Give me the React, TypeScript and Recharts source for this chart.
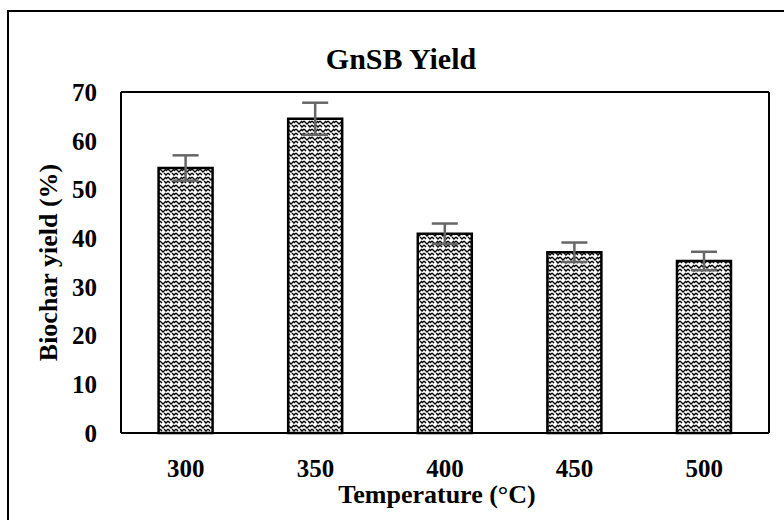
import React from "react";
import {
  BarChart,
  Bar,
  XAxis,
  YAxis,
  CartesianGrid,
  ErrorBar,
} from "recharts";

const temperatures = ["300", "350", "400", "450", "500"];
const yieldValues = [54.4, 64.5, 40.9, 37.1, 35.3];
const yieldErrors = [2.6, 3.3, 2.1, 2.0, 1.9];
const yTicks = [0, 10, 20, 30, 40, 50, 60, 70];

const data = temperatures.map((t, i) => ({
  temp: t,
  value: yieldValues[i],
  err: yieldErrors[i],
}));

const font = "'Liberation Serif', 'Times New Roman', serif";

export default function App() {
  return (
    <div
      style={{
        position: "absolute",
        left: 0,
        top: 0,
        width: 784,
        height: 520,
        overflow: "hidden",
        background: "#fff",
        fontFamily: font,
      }}
    >
      {/* outer frame, only top/left edges fall inside the picture */}
      <div
        style={{
          position: "absolute",
          left: 7,
          top: 10,
          width: 800,
          height: 540,
          border: "2px solid #000",
        }}
      />
      <div
        style={{
          position: "absolute",
          left: 0,
          top: 42,
          width: 802,
          textAlign: "center",
          fontSize: 30,
          fontWeight: "bold",
          color: "#000",
        }}
      >
        GnSB Yield
      </div>
      <div style={{ position: "absolute", left: 0, top: 0 }}>
        <BarChart
          width={784}
          height={520}
          data={data}
          margin={{ top: 92, right: 15, left: 0, bottom: 0 }}
          barCategoryGap="29%"
        >
          <defs>
            <pattern
              id="weave"
              width="8"
              height="8"
              patternUnits="userSpaceOnUse"
            >
              <rect width="8" height="8" fill="#fff" />
              <path
                d="M0 1 L3 4 L6 1 M4 5 L6 7 L8 5 M0 5 L2 7 M6 3 L8 1"
                stroke="#000"
                strokeWidth="1.4"
                fill="none"
              />
            </pattern>
          </defs>
          <CartesianGrid
            stroke="#000"
            strokeWidth={2}
            horizontalCoordinatesGenerator={({ offset }: any) => [
              offset.top,
              offset.top + offset.height,
            ]}
            verticalCoordinatesGenerator={({ offset }: any) => [
              offset.left,
              offset.left + offset.width,
            ]}
          />
          <XAxis
            dataKey="temp"
            height={87}
            tickLine={false}
            axisLine={{ stroke: "#000", strokeWidth: 2 }}
            tickMargin={20}
            tick={{
              fontSize: 25,
              fontWeight: "bold",
              fill: "#000",
              fontFamily: font,
            }}
            label={{
              value: "Temperature (°C)",
              position: "insideBottom",
              offset: 17,
              dx: -8,
              style: {
                fontSize: 26,
                fontWeight: "bold",
                fill: "#000",
                fontFamily: font,
              },
            }}
          />
          <YAxis
            width={121}
            domain={[0, 70]}
            ticks={yTicks}
            interval={0}
            tickLine={false}
            axisLine={{ stroke: "#000", strokeWidth: 2 }}
            tickMargin={18}
            tick={{
              fontSize: 25,
              fontWeight: "bold",
              fill: "#000",
              fontFamily: font,
            }}
            label={{
              value: "Biochar yield (%)",
              angle: -90,
              position: "insideLeft",
              offset: 48,
              style: {
                textAnchor: "middle",
                fontSize: 26,
                fontWeight: "bold",
                fill: "#000",
                fontFamily: font,
              },
            }}
          />
          <Bar
            dataKey="value"
            fill="url(#weave)"
            stroke="#000"
            strokeWidth={2.5}
            isAnimationActive={false}
          >
            <ErrorBar
              dataKey="err"
              width={13}
              stroke="#666"
              strokeWidth={2.5}
              direction="y"
            />
          </Bar>
        </BarChart>
      </div>
    </div>
  );
}
